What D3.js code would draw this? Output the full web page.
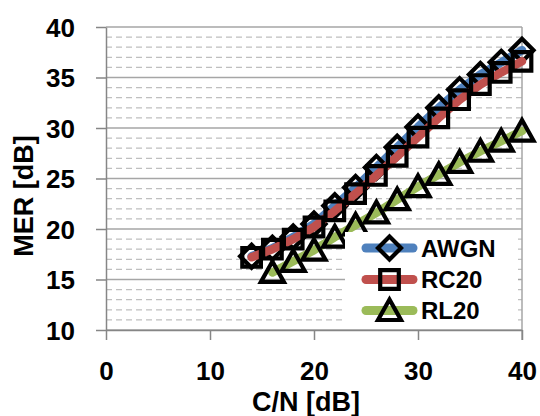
<!DOCTYPE html>
<html>
<head>
<meta charset="utf-8">
<script src="https://cdn.jsdelivr.net/npm/d3@7"></script>
<style>
  html, body { margin: 0; padding: 0; background: #fff; }
  svg { display: block; }
  text { font-family: "Liberation Sans", Arial, sans-serif; font-weight: bold; fill: #000; }
</style>
</head>
<body>
<svg id="chart" width="540" height="416"></svg>
<script>
// ---- data ----
const cnAWGN = [14, 16, 18, 20, 22, 24, 26, 28, 30, 32, 34, 36, 38, 40];
const merAWGN = [17.3, 18.1, 19.2, 20.5, 22.3, 24.1, 26.1, 28.1, 30.1, 32.0, 33.8, 35.3, 36.5, 37.7];
const cnRC20 = [14, 16, 18, 20, 22, 24, 26, 28, 30, 32, 34, 36, 38, 40];
const merRC20 = [17.2, 18.0, 19.0, 20.2, 21.8, 23.5, 25.3, 27.2, 29.1, 31.0, 32.8, 34.3, 35.5, 36.6];
const cnRL20 = [16, 18, 20, 22, 24, 26, 28, 30, 32, 34, 36, 38, 40];
const merRL20 = [15.7, 16.8, 17.9, 19.2, 20.4, 21.6, 22.9, 24.2, 25.4, 26.6, 27.7, 28.7, 29.7];
const seriesNames = ["AWGN", "RC20", "RL20"];
const xTicks = [0, 10, 20, 30, 40];
const yTicks = [10, 15, 20, 25, 30, 35, 40];
const xTitle = "C/N [dB]";
const yTitle = "MER [dB]";

// ---- layout ----
const svg = d3.select("#chart");
const L = 106, R = 522, T = 27, B = 330;
const x = d3.scaleLinear().domain([0, 40]).range([L, R]);
const y = d3.scaleLinear().domain([10, 40]).range([B, T]);

const colors = { AWGN: "#4f81bd", RC20: "#c0504d", RL20: "#9bbb59" };
const gridMajor = "#a6a6a6", gridMinor = "#bfbfbf", axisCol = "#868686";

// minor gridlines
const minor = d3.range(11, 40).filter(v => v % 5 !== 0);
svg.append("g").selectAll("line").data(minor).join("line")
  .attr("x1", L).attr("x2", R)
  .attr("y1", d => y(d)).attr("y2", d => y(d))
  .attr("stroke", gridMinor).attr("stroke-width", 1.3)
  .attr("stroke-dasharray", "6,4");

// major gridlines
svg.append("g").selectAll("line").data(yTicks).join("line")
  .attr("x1", L).attr("x2", R)
  .attr("y1", d => y(d)).attr("y2", d => y(d))
  .attr("stroke", gridMajor).attr("stroke-width", 1.5);

// right border
svg.append("line").attr("x1", R).attr("x2", R).attr("y1", T).attr("y2", B + 10)
  .attr("stroke", gridMajor).attr("stroke-width", 1.5);

// axes
const yAxis = d3.axisLeft(y).tickValues(yTicks).tickSize(10).tickSizeOuter(0).tickPadding(21);
const gy = svg.append("g").attr("transform", `translate(${L},0)`).call(yAxis);
gy.selectAll("path.domain").attr("stroke", axisCol).attr("stroke-width", 1.5);
gy.selectAll(".tick line").attr("stroke", axisCol).attr("stroke-width", 1.5);
gy.selectAll(".tick text").style("font-size", "26px").style("font-family", "'Liberation Sans', Arial, sans-serif")
  .style("font-weight", "bold").attr("fill", "#000").attr("dy", "0.36em");

const xAxis = d3.axisBottom(x).tickValues(xTicks).tickSize(10).tickSizeOuter(0).tickPadding(22);
const gx = svg.append("g").attr("transform", `translate(0,${B})`).call(xAxis);
gx.selectAll("path.domain").attr("stroke", axisCol).attr("stroke-width", 1.5);
gx.selectAll(".tick line").attr("stroke", axisCol).attr("stroke-width", 1.5);
gx.selectAll(".tick text").style("font-size", "26px").style("font-family", "'Liberation Sans', Arial, sans-serif")
  .style("font-weight", "bold").attr("fill", "#000").attr("dy", "0.71em");

// axis titles
svg.append("text").attr("x", 306).attr("y", 411).attr("text-anchor", "middle")
  .style("font-size", "27px").text(xTitle);
svg.append("text").attr("transform", "translate(33,196) rotate(-90)").attr("text-anchor", "middle")
  .style("font-size", "27px").text(yTitle);

// marker shapes
const markerPath = {
  AWGN: "M0,-11.5L11.5,0L0,11.5L-11.5,0Z",
  RC20: "M-9.3,-9.3H9.3V9.3H-9.3Z",
  RL20: "M0,-11L11.5,9.5L-11.5,9.5Z"
};

const series = [
  { name: "AWGN", xs: cnAWGN, ys: merAWGN },
  { name: "RC20", xs: cnRC20, ys: merRC20 },
  { name: "RL20", xs: cnRL20, ys: merRL20 }
];

const line = d3.line().x(d => x(d[0])).y(d => y(d[1]));
const plot = svg.append("g");
series.forEach(s => {
  const pts = s.xs.map((v, i) => [v, s.ys[i]]);
  plot.append("path").datum(pts).attr("d", line)
    .attr("fill", "none").attr("stroke", colors[s.name]).attr("stroke-width", 8.5)
    .attr("stroke-linecap", "round").attr("stroke-linejoin", "round");
  plot.append("g").selectAll("path").data(pts).join("path")
    .attr("d", markerPath[s.name])
    .attr("transform", d => `translate(${x(d[0])},${y(d[1])})`)
    .attr("fill", "none").attr("stroke", "#000").attr("stroke-width", 4.2)
    .attr("stroke-linejoin", "miter");
});

// legend
const lg = svg.append("g");
lg.append("rect").attr("x", 345).attr("y", 232).attr("width", 173).attr("height", 97).attr("fill", "#fff");
const legY = [248, 279.5, 310.5];
series.forEach((s, i) => {
  const yy = legY[i];
  lg.append("line").attr("x1", 366).attr("x2", 413).attr("y1", yy).attr("y2", yy)
    .attr("stroke", colors[s.name]).attr("stroke-width", 9).attr("stroke-linecap", "round");
  lg.append("path").attr("d", markerPath[s.name]).attr("transform", `translate(389.5,${yy})`)
    .attr("fill", "none").attr("stroke", "#000").attr("stroke-width", 4.2);
  lg.append("text").attr("x", 421).attr("y", yy).attr("dy", "0.36em")
    .style("font-size", "24px").text(s.name);
});
</script>
</body>
</html>
